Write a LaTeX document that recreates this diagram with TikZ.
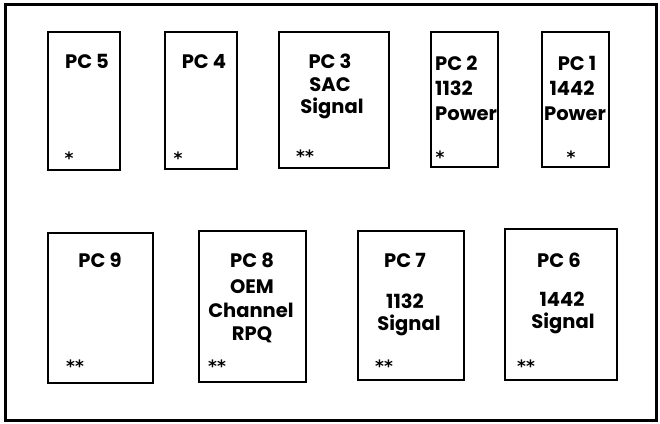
\documentclass[tikz,border=0pt]{standalone}
\usepackage{fontspec}
\setmainfont{Poppins}
\newfontfamily\starfont{DejaVu Sans}

\begin{document}
\begin{tikzpicture}[x=1pt,y=-1pt,
  card/.style={line width=2.4pt},
  txt/.style={anchor=base,inner sep=0pt,font=\bfseries\fontsize{19.5}{19.5}\selectfont},
  stars/.style={inner sep=0pt,font=\starfont\bfseries\fontsize{17}{17}\selectfont}]
  \useasboundingbox (0,0) rectangle (660,423);
  % outer frame
  \coordinate (F1) at (5,4); \coordinate (F2) at (656,420);
  \draw[line width=3pt] (F1) rectangle (F2);
  % top row of cards
  \coordinate (A5) at (48,32);  \coordinate (B5) at (120,170);
  \coordinate (A4) at (165,32); \coordinate (B4) at (237,169);
  \coordinate (A3) at (279,32); \coordinate (B3) at (389,168);
  \coordinate (A2) at (431,32); \coordinate (B2) at (498,167);
  \coordinate (A1) at (542,32); \coordinate (B1) at (609,167);
  \draw[card] (A5) rectangle (B5) (A4) rectangle (B4) (A3) rectangle (B3);
  \draw[card] (A2) rectangle (B2) (A1) rectangle (B1);
  % bottom row of cards
  \coordinate (A9) at (48,233);  \coordinate (B9) at (153,383);
  \coordinate (A8) at (199,231); \coordinate (B8) at (306,382);
  \coordinate (A7) at (358,231); \coordinate (B7) at (464,380);
  \coordinate (A6) at (505,229); \coordinate (B6) at (617,380);
  \draw[card] (A9) rectangle (B9) (A8) rectangle (B8);
  \draw[card] (A7) rectangle (B7) (A6) rectangle (B6);
  % labels, top row
  \node[txt] (t5) at (87,68) {PC 5};
  \node[txt] (t4) at (204,68) {PC 4};
  \node[txt] (t3a) at (330,68) {PC 3};
  \node[txt] (t3b) at (330,91) {SAC};
  \node[txt] (t3c) at (332,113) {Signal};
  \node[txt,anchor=base west] (t2a) at (435,70) {PC 2};
  \node[txt,anchor=base west] (t2b) at (435,95) {1132};
  \node[txt,anchor=base west] (t2c) at (435,120) {Power};
  \node[txt] (t1a) at (577,70) {PC 1};
  \node[txt] (t1b) at (572,95) {1442};
  \node[txt] (t1c) at (575,120) {Power};
  % labels, bottom row
  \node[txt] (t9) at (100,267) {PC 9};
  \node[txt] (t8a) at (252,267) {PC 8};
  \node[txt] (t8b) at (252,293) {OEM};
  \node[txt] (t8c) at (251,317) {Channel};
  \node[txt] (t8d) at (252,340) {RPQ};
  \node[txt] (t7a) at (405,267) {PC 7};
  \node[txt] (t7b) at (405,308) {1132};
  \node[txt] (t7c) at (409,330) {Signal};
  \node[txt] (t6a) at (559,267) {PC 6};
  \node[txt] (t6b) at (562,306) {1442};
  \node[txt] (t6c) at (563,328) {Signal};
  % stars
  \node[stars] (s5) at (69,158) {*};
  \node[stars] (s4) at (178,158) {*};
  \node[stars] (s3) at (305,156) {**};
  \node[stars] (s2) at (440,157) {*};
  \node[stars] (s1) at (571,157) {*};
  \node[stars] (s9) at (75,366) {**};
  \node[stars] (s8) at (217,366) {**};
  \node[stars] (s7) at (384,366) {**};
  \node[stars] (s6) at (526,366) {**};
\end{tikzpicture}
\end{document}
